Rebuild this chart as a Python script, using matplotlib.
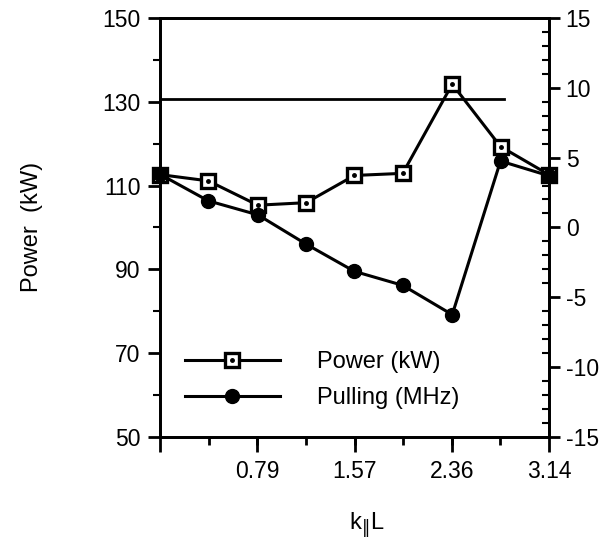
import matplotlib
matplotlib.use('Agg')
import matplotlib.pyplot as plt
from matplotlib.legend_handler import HandlerTuple
from matplotlib.ticker import FixedLocator, MultipleLocator

plt.rcParams['font.family'] = ['Liberation Sans', 'DejaVu Sans']
plt.rcParams['axes.unicode_minus'] = False

# k_par L values (multiples of pi/8)
kL = [0, 0.39, 0.79, 1.18, 1.57, 1.96, 2.36, 2.75, 3.14]
power_kw = [112.6, 111.1, 105.3, 105.9, 112.4, 112.9, 134.2, 119.3, 112.6]
pulling_mhz = [3.8, 1.9, 0.9, -1.2, -3.15, -4.15, -6.25, 4.75, 3.7]
ref_power = 130.7
ref_end = 2.78

xtick_pos = [0, 0.785, 1.571, 2.356, 3.1416]
xtick_lab = ['', '0.79', '1.57', '2.36', '3.14']
power_ticks = [50, 70, 90, 110, 130, 150]
power_minor = [60, 80, 100, 120, 140]

fig = plt.figure(figsize=(6.11, 5.44), dpi=100)
ax = fig.add_axes([0.262, 0.197, 0.6365, 0.77])
ax2 = ax.twinx()

# horizontal reference line
ax.plot([0, ref_end], [ref_power, ref_power], color='black', lw=2)

p_line, = ax.plot(kL, power_kw, color='black', lw=2.2, marker='s', ms=10,
                  mfc='white', mec='black', mew=2.4, clip_on=False, zorder=4)
p_dot, = ax.plot(kL, power_kw, ls='none', marker='o', ms=2.5, color='black',
                 clip_on=False, zorder=5)
c_line, = ax2.plot(kL, pulling_mhz, color='black', lw=2.2, marker='o', ms=10,
                   clip_on=False, zorder=3)

ax.set_xlim(0, 3.1416)
ax.set_ylim(50, 150)
ax2.set_ylim(-15, 15)

ax.xaxis.set_major_locator(FixedLocator(xtick_pos))
ax.set_xticklabels(xtick_lab)
ax.xaxis.set_minor_locator(MultipleLocator(3.1416 / 8))
ax.yaxis.set_major_locator(FixedLocator(power_ticks))
ax.yaxis.set_minor_locator(FixedLocator(power_minor))
ax2.yaxis.set_major_locator(MultipleLocator(5))
ax2.yaxis.set_minor_locator(MultipleLocator(1))

for a in (ax, ax2):
    for s in a.spines.values():
        s.set_linewidth(2)

ax.tick_params(axis='x', which='major', direction='out', length=11, width=2,
               labelsize=16.5, pad=6)
ax.tick_params(axis='x', which='minor', direction='out', length=6, width=2)
ax.tick_params(axis='y', which='major', direction='out', length=9, width=2,
               labelsize=16.5, pad=5)
ax.tick_params(axis='y', which='minor', direction='out', length=5, width=1.5)
ax2.tick_params(axis='y', which='major', direction='out', length=8, width=2,
                labelsize=16.5, pad=4)
ax2.tick_params(axis='y', which='minor', direction='in', length=5, width=1.5)

ax.set_ylabel('Power  (kW)', fontsize=17)
ax.yaxis.set_label_coords(-0.30, 0.5)
ax.set_xlabel(r'k$_{\Vert}$L', fontsize=17)
ax.xaxis.set_label_coords(0.53, -0.175)

leg = ax.legend([(p_line, p_dot), c_line], ['Power (kW)', 'Pulling (MHz)'],
                handler_map={tuple: HandlerTuple(ndivide=1)},
                loc='upper left', bbox_to_anchor=(0.01, 0.255),
                frameon=False, fontsize=17, handlelength=4.0,
                handletextpad=1.6, labelspacing=0.6)

fig.savefig('out.png', dpi=100)
